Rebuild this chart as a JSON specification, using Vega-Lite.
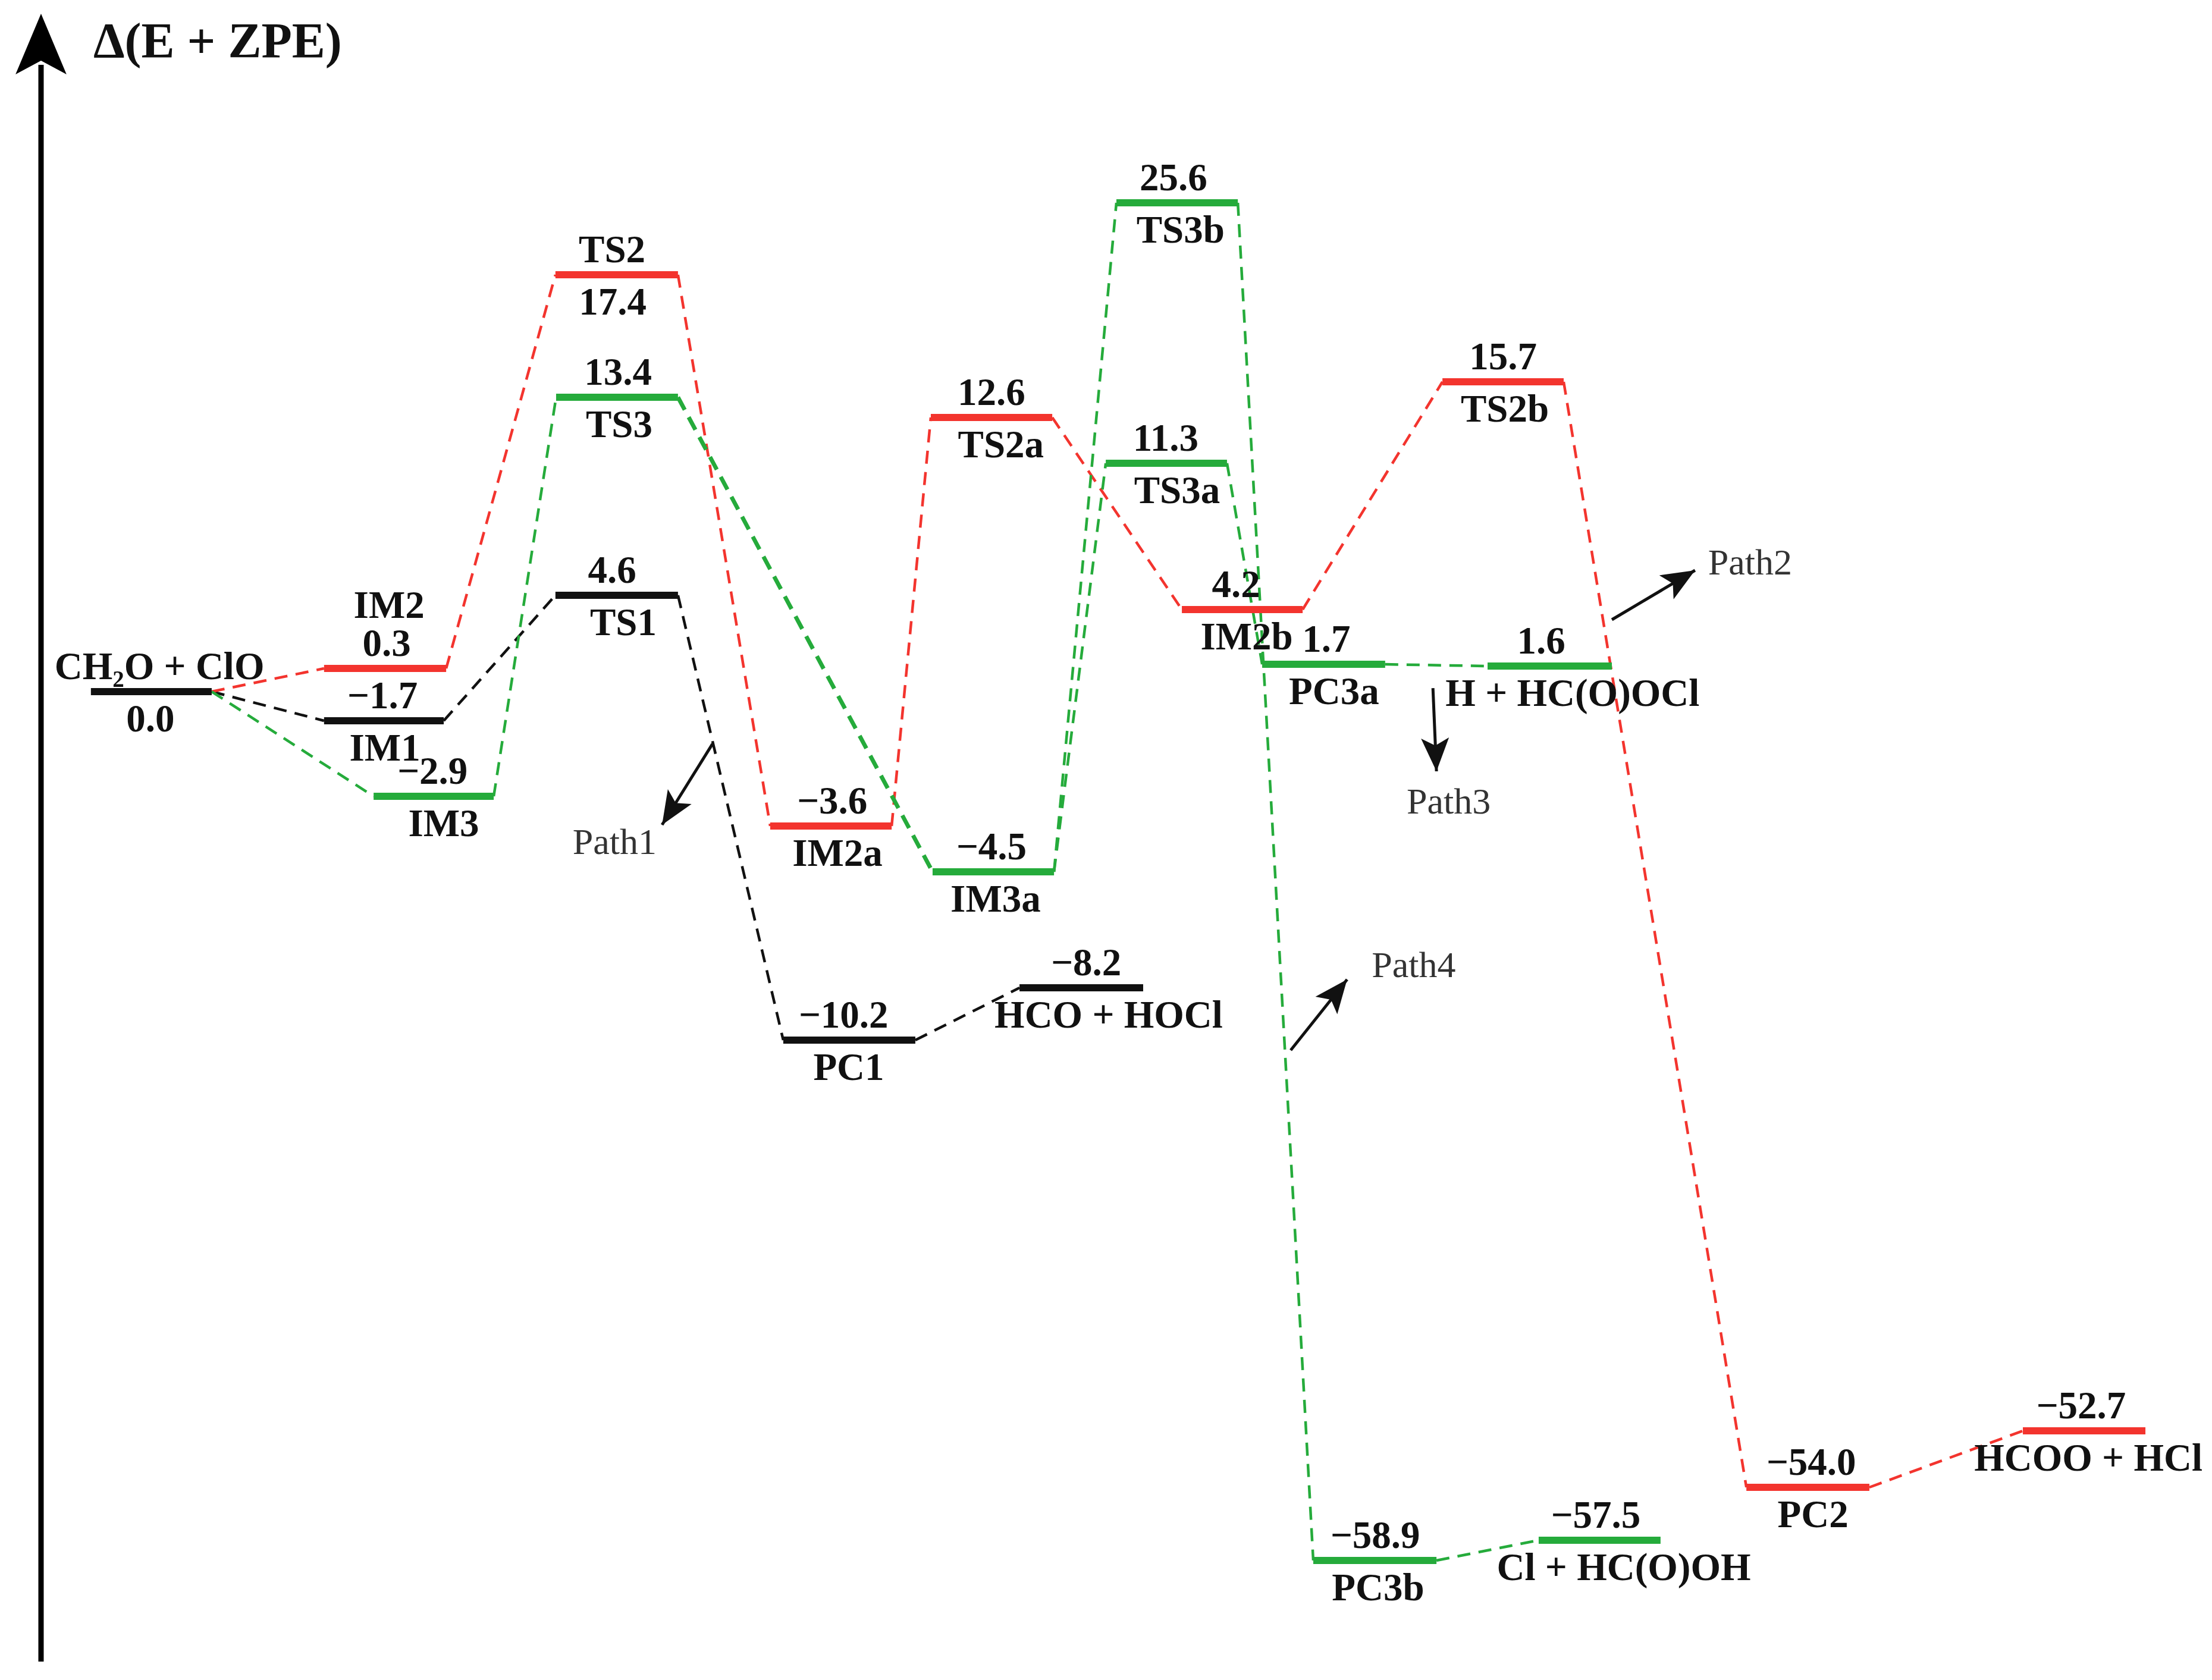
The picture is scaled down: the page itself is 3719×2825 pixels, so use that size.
{
  "$schema": "https://vega.github.io/schema/vega-lite/v6.json",
  "width": 3719,
  "height": 2825,
  "autosize": {"type": "none"},
  "padding": 0,
  "background": "white",
  "config": {"view": {"stroke": null}},
  "datasets": {
    "levels": [
      {"name": "CH2O + ClO", "x": 4.11, "x2": 9.57, "e": 0.0, "route": "Path1"},
      {"name": "IM2", "x": 14.65, "x2": 20.17, "e": 0.3, "route": "Path2"},
      {"name": "IM1", "x": 14.65, "x2": 20.06, "e": -1.7, "route": "Path1"},
      {"name": "IM3", "x": 16.89, "x2": 22.32, "e": -2.9, "route": "Path3"},
      {"name": "TS2", "x": 25.11, "x2": 30.65, "e": 17.4, "route": "Path2"},
      {"name": "TS3", "x": 25.14, "x2": 30.65, "e": 13.4, "route": "Path3"},
      {"name": "TS1", "x": 25.11, "x2": 30.65, "e": 4.6, "route": "Path1"},
      {"name": "IM2a", "x": 34.82, "x2": 40.31, "e": -3.6, "route": "Path2"},
      {"name": "PC1", "x": 35.41, "x2": 41.38, "e": -10.2, "route": "Path1"},
      {"name": "IM3a", "x": 42.16, "x2": 47.65, "e": -4.5, "route": "Path3"},
      {"name": "TS2a", "x": 42.08, "x2": 47.57, "e": 12.6, "route": "Path2"},
      {"name": "HCO + HOCl", "x": 46.09, "x2": 51.68, "e": -8.2, "route": "Path1"},
      {"name": "TS3a", "x": 49.99, "x2": 55.47, "e": 11.3, "route": "Path3"},
      {"name": "TS3b", "x": 50.47, "x2": 55.96, "e": 25.6, "route": "Path3"},
      {"name": "IM2b", "x": 53.43, "x2": 58.89, "e": 4.2, "route": "Path2"},
      {"name": "PC3a", "x": 57.06, "x2": 62.62, "e": 1.7, "route": "Path3"},
      {"name": "TS2b", "x": 65.21, "x2": 70.69, "e": 15.7, "route": "Path2"},
      {"name": "H + HC(O)OCl", "x": 67.25, "x2": 72.87, "e": 1.6, "route": "Path3"},
      {"name": "PC3b", "x": 59.37, "x2": 64.94, "e": -58.9, "route": "Path3"},
      {"name": "Cl + HC(O)OH", "x": 69.56, "x2": 75.07, "e": -57.5, "route": "Path3"},
      {"name": "PC2", "x": 78.95, "x2": 84.51, "e": -54.0, "route": "Path2"},
      {"name": "HCOO + HCl", "x": 91.45, "x2": 96.99, "e": -52.7, "route": "Path2"}
    ],
    "links": [
      {"from": "CH2O + ClO", "to": "IM1", "x": 9.57, "e": 0.0, "x2": 14.65, "e2": -1.7, "route": "Path1"},
      {"from": "IM1", "to": "TS1", "x": 20.06, "e": -1.7, "x2": 25.11, "e2": 4.6, "route": "Path1"},
      {"from": "TS1", "to": "PC1", "x": 30.65, "e": 4.6, "x2": 35.41, "e2": -10.2, "route": "Path1"},
      {"from": "PC1", "to": "HCO + HOCl", "x": 41.38, "e": -10.2, "x2": 46.09, "e2": -8.2, "route": "Path1"},
      {"from": "CH2O + ClO", "to": "IM2", "x": 9.57, "e": 0.0, "x2": 14.65, "e2": 0.3, "route": "Path2"},
      {"from": "IM2", "to": "TS2", "x": 20.17, "e": 0.3, "x2": 25.11, "e2": 17.4, "route": "Path2"},
      {"from": "TS2", "to": "IM2a", "x": 30.65, "e": 17.4, "x2": 34.82, "e2": -3.6, "route": "Path2"},
      {"from": "IM2a", "to": "TS2a", "x": 40.31, "e": -3.6, "x2": 42.08, "e2": 12.6, "route": "Path2"},
      {"from": "TS2a", "to": "IM2b", "x": 47.57, "e": 12.6, "x2": 53.43, "e2": 4.2, "route": "Path2"},
      {"from": "IM2b", "to": "TS2b", "x": 58.89, "e": 4.2, "x2": 65.21, "e2": 15.7, "route": "Path2"},
      {"from": "TS2b", "to": "PC2", "x": 70.69, "e": 15.7, "x2": 78.95, "e2": -54.0, "route": "Path2"},
      {"from": "PC2", "to": "HCOO + HCl", "x": 84.51, "e": -54.0, "x2": 91.45, "e2": -52.7, "route": "Path2"},
      {"from": "CH2O + ClO", "to": "IM3", "x": 9.57, "e": 0.0, "x2": 16.89, "e2": -2.9, "route": "Path3"},
      {"from": "IM3", "to": "TS3", "x": 22.32, "e": -2.9, "x2": 25.14, "e2": 13.4, "route": "Path3"},
      {"from": "TS3", "to": "IM3a", "x": 30.65, "e": 13.4, "x2": 42.16, "e2": -4.5, "route": "Path3"},
      {"from": "IM3a", "to": "TS3a", "x": 47.65, "e": -4.5, "x2": 49.99, "e2": 11.3, "route": "Path3"},
      {"from": "IM3a", "to": "TS3b", "x": 47.65, "e": -4.5, "x2": 50.47, "e2": 25.6, "route": "Path3"},
      {"from": "TS3a", "to": "PC3a", "x": 55.47, "e": 11.3, "x2": 57.06, "e2": 1.7, "route": "Path3"},
      {"from": "PC3a", "to": "H + HC(O)OCl", "x": 62.62, "e": 1.7, "x2": 67.25, "e2": 1.6, "route": "Path3"},
      {"from": "TS3b", "to": "PC3b", "x": 55.96, "e": 25.6, "x2": 59.37, "e2": -58.9, "route": "Path3"},
      {"from": "PC3b", "to": "Cl + HC(O)OH", "x": 64.94, "e": -58.9, "x2": 69.56, "e2": -57.5, "route": "Path3"}
    ],
    "labels": [
      {"text": "CH₂O + ClO", "x": 7.21, "e": 0.0, "place": "above"},
      {"text": "0.3", "x": 17.48, "e": 0.3, "place": "above"},
      {"text": "−1.7", "x": 17.29, "e": -1.7, "place": "above"},
      {"text": "−2.9", "x": 19.55, "e": -2.9, "place": "above"},
      {"text": "TS2", "x": 27.67, "e": 17.4, "place": "above"},
      {"text": "13.4", "x": 27.94, "e": 13.4, "place": "above"},
      {"text": "4.6", "x": 27.67, "e": 4.6, "place": "above"},
      {"text": "−3.6", "x": 37.62, "e": -3.6, "place": "above"},
      {"text": "−10.2", "x": 38.13, "e": -10.2, "place": "above"},
      {"text": "12.6", "x": 44.82, "e": 12.6, "place": "above"},
      {"text": "−4.5", "x": 44.82, "e": -4.5, "place": "above"},
      {"text": "−8.2", "x": 49.10, "e": -8.2, "place": "above"},
      {"text": "11.3", "x": 52.70, "e": 11.3, "place": "above"},
      {"text": "25.6", "x": 53.05, "e": 25.6, "place": "above"},
      {"text": "4.2", "x": 55.88, "e": 4.2, "place": "above"},
      {"text": "1.7", "x": 59.96, "e": 1.7, "place": "above"},
      {"text": "15.7", "x": 67.95, "e": 15.7, "place": "above"},
      {"text": "1.6", "x": 69.67, "e": 1.6, "place": "above"},
      {"text": "−58.9", "x": 62.17, "e": -58.9, "place": "above"},
      {"text": "−57.5", "x": 72.14, "e": -57.5, "place": "above"},
      {"text": "−54.0", "x": 81.88, "e": -54.0, "place": "above"},
      {"text": "−52.7", "x": 94.08, "e": -52.7, "place": "above"},
      {"text": "IM2", "x": 17.59, "e": 0.3, "place": "top"},
      {"text": "0.0", "x": 6.80, "e": 0.0, "place": "below"},
      {"text": "IM1", "x": 17.40, "e": -1.7, "place": "below"},
      {"text": "IM3", "x": 20.06, "e": -2.9, "place": "below"},
      {"text": "17.4", "x": 27.70, "e": 17.4, "place": "below"},
      {"text": "TS3", "x": 27.99, "e": 13.4, "place": "below"},
      {"text": "TS1", "x": 28.18, "e": 4.6, "place": "below"},
      {"text": "IM2a", "x": 37.86, "e": -3.6, "place": "below"},
      {"text": "PC1", "x": 38.37, "e": -10.2, "place": "below"},
      {"text": "TS2a", "x": 45.25, "e": 12.6, "place": "below"},
      {"text": "IM3a", "x": 45.01, "e": -4.5, "place": "below"},
      {"text": "HCO + HOCl", "x": 50.12, "e": -8.2, "place": "below"},
      {"text": "TS3a", "x": 53.21, "e": 11.3, "place": "below"},
      {"text": "TS3b", "x": 53.37, "e": 25.6, "place": "below"},
      {"text": "IM2b", "x": 56.36, "e": 4.2, "place": "below"},
      {"text": "PC3a", "x": 60.31, "e": 1.7, "place": "below"},
      {"text": "TS2b", "x": 68.03, "e": 15.7, "place": "below"},
      {"text": "H + HC(O)OCl", "x": 71.09, "e": 1.6, "place": "below"},
      {"text": "PC3b", "x": 62.30, "e": -58.9, "place": "below"},
      {"text": "Cl + HC(O)OH", "x": 73.41, "e": -57.5, "place": "below"},
      {"text": "PC2", "x": 81.96, "e": -54.0, "place": "below"},
      {"text": "HCOO + HCl", "x": 94.41, "e": -52.7, "place": "below"}
    ],
    "paths": [
      {"label": "Path1", "x": 32.21, "e": -2.068, "x2": 29.93, "e2": -3.572, "tx": 25.89, "te": -4.149},
      {"label": "Path2", "x": 72.87, "e": 3.738, "x2": 76.63, "e2": 5.867, "tx": 77.22, "te": 5.659},
      {"label": "Path3", "x": 64.78, "e": 0.046, "x2": 64.94, "e2": -2.503, "tx": 63.59, "te": -3.306},
      {"label": "Path4", "x": 58.35, "e": -11.30, "x2": 60.90, "e2": -7.934, "tx": 62.01, "te": -7.859}
    ]
  },
  "layer": [
    {
      "data": {"name": "links"},
      "transform": [{"filter": "!(datum.from === 'TS3' && datum.to === 'IM3a')"}],
      "mark": {"type": "rule", "strokeWidth": 4.5, "strokeDash": [22, 14]},
      "encoding": {
        "x": {"field": "x", "type": "quantitative", "axis": null,
              "scale": {"domain": [0, 100], "range": [0, 3719], "nice": false, "zero": false}},
        "y": {"field": "e", "type": "quantitative", "axis": null,
              "scale": {"domain": [-62, -58.9, -57.5, -54.0, -52.7, -10.2, -8.2, -4.5, -3.6, -2.9, -1.7, 0.0, 0.3, 1.6, 1.7, 4.2, 4.6, 11.3, 12.6, 13.4, 15.7, 17.4, 25.6, 33],
                        "range": [2794, 2624, 2590, 2501, 2406, 1749, 1661, 1466, 1389, 1339, 1212, 1163, 1124, 1120, 1117, 1025, 1001, 779, 702, 668, 642, 462, 341, 23],
                        "nice": false, "zero": false}},
        "x2": {"field": "x2"},
        "y2": {"field": "e2"},
        "color": {"field": "route", "type": "nominal", "legend": null,
                  "scale": {"domain": ["Path1", "Path2", "Path3"], "range": ["#111111", "#f3342e", "#25ab3b"]}}
      }
    },
    {
      "data": {"name": "links"},
      "transform": [{"filter": "datum.from === 'TS3' && datum.to === 'IM3a'"}],
      "mark": {"type": "rule", "strokeWidth": 7, "strokeDash": [24, 14]},
      "encoding": {
        "x": {"field": "x", "type": "quantitative"},
        "y": {"field": "e", "type": "quantitative"},
        "x2": {"field": "x2"},
        "y2": {"field": "e2"},
        "color": {"field": "route", "type": "nominal", "legend": null}
      }
    },
    {
      "data": {"name": "levels"},
      "mark": {"type": "rule", "strokeWidth": 12, "strokeCap": "butt"},
      "encoding": {
        "x": {"field": "x", "type": "quantitative"},
        "y": {"field": "e", "type": "quantitative"},
        "x2": {"field": "x2"},
        "color": {"field": "route", "type": "nominal", "legend": null}
      }
    },
    {
      "data": {"values": [{}]},
      "mark": {"type": "rule", "strokeWidth": 9, "color": "#000000"},
      "encoding": {
        "x": {"datum": 1.855, "type": "quantitative"},
        "y": {"datum": -62, "type": "quantitative"},
        "y2": {"datum": 31}
      }
    },
    {
      "data": {"values": [{}]},
      "mark": {"type": "point", "filled": true, "color": "#000000", "opacity": 1, "strokeWidth": 0,
               "shape": "M0,0L0.84,2L0,1.55L-0.84,2Z", "size": 10404},
      "encoding": {
        "x": {"datum": 1.855, "type": "quantitative"},
        "y": {"datum": 33, "type": "quantitative"}
      }
    },
    {
      "data": {"values": [{}]},
      "mark": {"type": "text", "text": "Δ(E + ZPE)", "font": "Liberation Serif", "fontWeight": "bold",
               "fontSize": 84, "align": "left", "baseline": "alphabetic", "dy": 74, "color": "#111111"},
      "encoding": {
        "x": {"datum": 4.22, "type": "quantitative"},
        "y": {"datum": 33, "type": "quantitative"}
      }
    },
    {
      "data": {"name": "labels"},
      "transform": [{"filter": "datum.place === 'above'"}],
      "mark": {"type": "text", "font": "Liberation Serif", "fontWeight": "bold", "fontSize": 65,
               "align": "center", "baseline": "alphabetic", "dy": -21, "color": "#111111"},
      "encoding": {
        "x": {"field": "x", "type": "quantitative"},
        "y": {"field": "e", "type": "quantitative"},
        "text": {"field": "text"}
      }
    },
    {
      "data": {"name": "labels"},
      "transform": [{"filter": "datum.place === 'top'"}],
      "mark": {"type": "text", "font": "Liberation Serif", "fontWeight": "bold", "fontSize": 65,
               "align": "center", "baseline": "alphabetic", "dy": -85, "color": "#111111"},
      "encoding": {
        "x": {"field": "x", "type": "quantitative"},
        "y": {"field": "e", "type": "quantitative"},
        "text": {"field": "text"}
      }
    },
    {
      "data": {"name": "labels"},
      "transform": [{"filter": "datum.place === 'below'"}],
      "mark": {"type": "text", "font": "Liberation Serif", "fontWeight": "bold", "fontSize": 65,
               "align": "center", "baseline": "alphabetic", "dy": 67, "color": "#111111"},
      "encoding": {
        "x": {"field": "x", "type": "quantitative"},
        "y": {"field": "e", "type": "quantitative"},
        "text": {"field": "text"}
      }
    },
    {
      "data": {"name": "paths"},
      "mark": {"type": "rule", "strokeWidth": 5, "color": "#111111"},
      "encoding": {
        "x": {"field": "x", "type": "quantitative"},
        "y": {"field": "e", "type": "quantitative"},
        "x2": {"field": "x2"},
        "y2": {"field": "e2"}
      }
    },
    {
      "data": {"name": "paths"},
      "transform": [{"filter": "datum.label === 'Path1'"}],
      "mark": {"type": "point", "filled": true, "color": "#111111", "opacity": 1, "strokeWidth": 0,
               "shape": "M0,0L0.84,2L0,1.55L-0.84,2Z", "size": 3136, "angle": 212},
      "encoding": {
        "x": {"field": "x2", "type": "quantitative"},
        "y": {"field": "e2", "type": "quantitative"}
      }
    },
    {
      "data": {"name": "paths"},
      "transform": [{"filter": "datum.label === 'Path2'"}],
      "mark": {"type": "point", "filled": true, "color": "#111111", "opacity": 1, "strokeWidth": 0,
               "shape": "M0,0L0.84,2L0,1.55L-0.84,2Z", "size": 3136, "angle": 59.3},
      "encoding": {
        "x": {"field": "x2", "type": "quantitative"},
        "y": {"field": "e2", "type": "quantitative"}
      }
    },
    {
      "data": {"name": "paths"},
      "transform": [{"filter": "datum.label === 'Path3'"}],
      "mark": {"type": "point", "filled": true, "color": "#111111", "opacity": 1, "strokeWidth": 0,
               "shape": "M0,0L0.84,2L0,1.55L-0.84,2Z", "size": 3136, "angle": 177.5},
      "encoding": {
        "x": {"field": "x2", "type": "quantitative"},
        "y": {"field": "e2", "type": "quantitative"}
      }
    },
    {
      "data": {"name": "paths"},
      "transform": [{"filter": "datum.label === 'Path4'"}],
      "mark": {"type": "point", "filled": true, "color": "#111111", "opacity": 1, "strokeWidth": 0,
               "shape": "M0,0L0.84,2L0,1.55L-0.84,2Z", "size": 3136, "angle": 38.6},
      "encoding": {
        "x": {"field": "x2", "type": "quantitative"},
        "y": {"field": "e2", "type": "quantitative"}
      }
    },
    {
      "data": {"name": "paths"},
      "mark": {"type": "text", "font": "Liberation Serif", "fontSize": 62, "align": "left",
               "baseline": "alphabetic", "color": "#333333"},
      "encoding": {
        "x": {"field": "tx", "type": "quantitative"},
        "y": {"field": "te", "type": "quantitative"},
        "text": {"field": "label"}
      }
    }
  ]
}
